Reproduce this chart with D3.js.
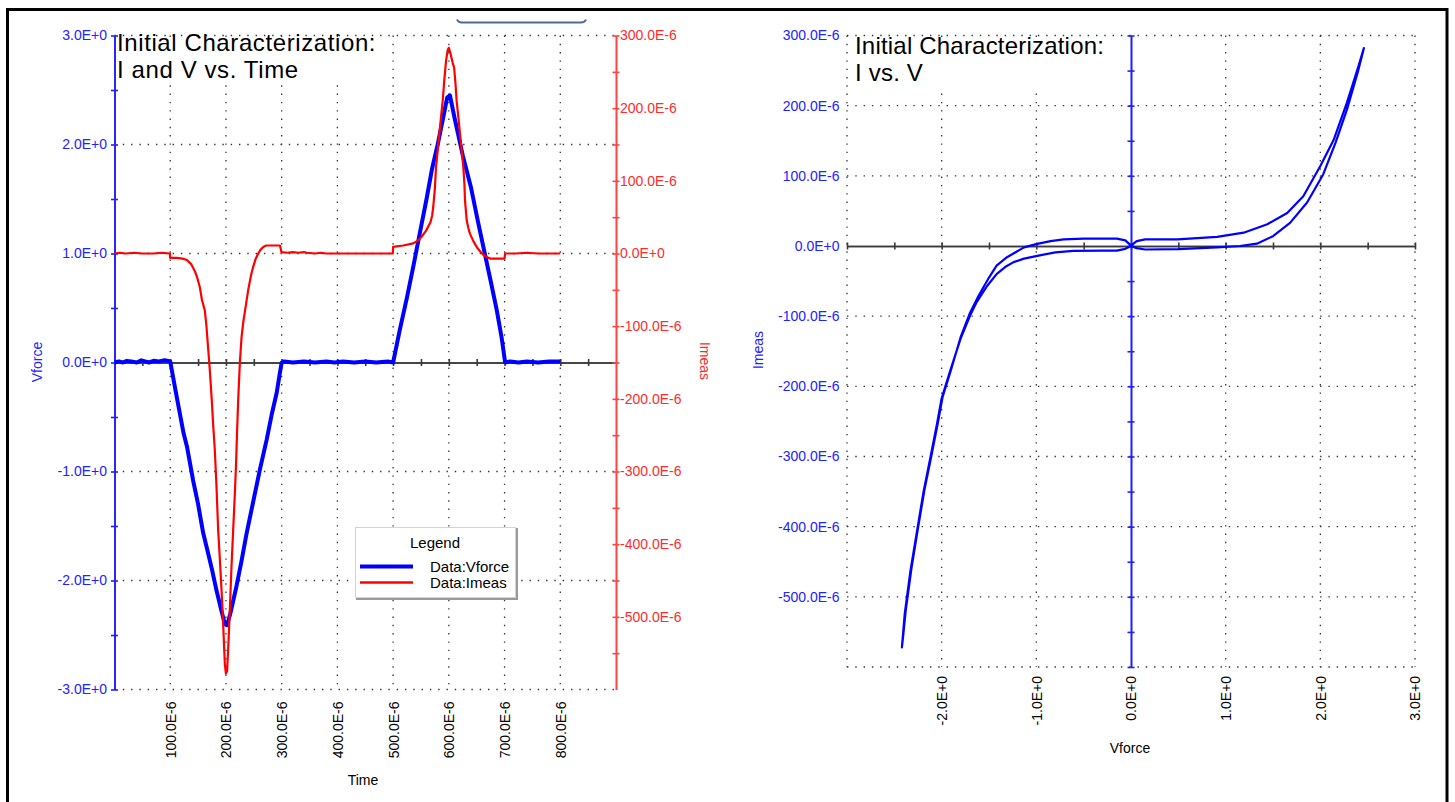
<!DOCTYPE html>
<html><head><meta charset="utf-8">
<script src="https://cdn.jsdelivr.net/npm/d3@7"></script>
<style>
body{margin:0;background:#fff;}
svg{display:block;font-family:"Liberation Sans",Arial,sans-serif;}
</style>
</head><body>
<svg id="c" width="1455" height="802"></svg>
<script>
// ---------- data: left chart (time series) ----------
const vTimeUs = [0,8,15,22,30,40,48,55,62,70,80,90,100,
  110,124,130,141,150,159,168,175,183,192,198,202,208,219,228,237,250,261,273,282,291,296,300,
  305,320,340,360,380,395,410,430,450,470,490,500,
  512,525,537,548,560,570,580,590,597,602,610,625,640,652,662,675,686,695,701,
  710,725,740,760,780,800];
const vforceV = [0,0.01,0,0.015,0.01,0,0.02,0.01,0,0.015,0.01,0.02,0.01,
  -0.27,-0.65,-0.77,-1.08,-1.3,-1.56,-1.75,-1.9,-2.09,-2.28,-2.4,-2.41,-2.3,-2.05,-1.82,-1.57,-1.25,-0.98,-0.71,-0.48,-0.28,-0.12,0.0,
  0.01,0,0.01,0,0.01,0.0,0.01,0,0.01,0,0.01,0,
  0.3,0.6,0.9,1.19,1.5,1.78,2.0,2.25,2.43,2.45,2.25,1.9,1.6,1.3,1.06,0.75,0.48,0.22,0.0,
  0.01,0,0.01,0,0.01,0.01];

const iTimeUs = [0,10,20,35,50,70,85,99.5,
  100,112,122,130,138,144,148,153,157,162,165,168,171,174.5,177,180,183,186,189,192,195,198,200,202,204,207,210,213,216,218,220,222,225,228,231,236,240,245,249,253,258,262,267,272,297,
  299.5,310,320,330,340,345,360,370,380,400,420,440,460,480,499.5,
  500,518,536,545,551,558,563,567,570,572,575,577,580,583,586,589,592,595,598,600,603,607,609.5,612,614,617,620,623,626,628,629,632,635,638,644,650,656,662,668,674,700,
  701,720,740,760,780,800];
const imeasUA = [0,1,0,1,0,0,1,0,
  -6,-6,-7,-9,-15,-24,-32,-46,-64,-78,-100,-130,-160,-201,-235,-270,-320,-380,-420,-462,-510,-565,-578,-575,-545,-490,-430,-380,-330,-293,-245,-201,-150,-115,-95,-70,-50,-30,-18,-8,0,5,9,11,11,
  2,1,2,1,2,1,0,1,0,0,0,0,0,0,0,
  9,11,14,18,23,30,37,43,52,64,90,119,142,165,188,210,240,265,280,283,275,262,256,233,210,188,165,142,119,95,73,46,35,27,17,9,3,-2,-5,-7,-7,
  0,0,1,0,0,0];

const tTickValues = [100,200,300,400,500,600,700,800];
const tTickLabels = ["100.0E-6","200.0E-6","300.0E-6","400.0E-6","500.0E-6","600.0E-6","700.0E-6","800.0E-6"];
const vTickValues = [3,2,1,0,-1,-2,-3];
const vTickLabels = ["3.0E+0","2.0E+0","1.0E+0","0.0E+0","-1.0E+0","-2.0E+0","-3.0E+0"];
const iTickValues = [300,200,100,0,-100,-200,-300,-400,-500];
const iTickLabels = ["300.0E-6","200.0E-6","100.0E-6","0.0E+0","-100.0E-6","-200.0E-6","-300.0E-6","-400.0E-6","-500.0E-6"];

// ---------- data: right chart (I vs V loop, in sweep order) ----------
const ivV = [0,-0.06,-0.15,-0.3,-0.61,-0.8,-0.99,-1.13,-1.24,-1.33,-1.42,-1.52,-1.63,-1.70,-1.80,-1.91,-2.0,-2.05,-2.12,-2.19,-2.26,-2.33,-2.39,-2.42,
  -2.41,-2.38,-2.32,-2.25,-2.18,-2.11,-2.04,-1.99,-1.90,-1.80,-1.70,-1.61,-1.50,-1.42,-1.31,-1.13,-0.99,-0.85,-0.71,-0.5,-0.15,-0.06,0,
  0.06,0.15,0.49,0.91,1.19,1.44,1.65,1.82,2.0,2.14,2.28,2.40,2.46,
  2.40,2.28,2.16,2.03,1.86,1.68,1.5,1.33,1.15,0.91,0.5,0.15,0.06,0];
const ivI = [0,-4,-6.5,-6.5,-7,-9,-14,-18,-23,-30,-40,-57,-80,-99,-132,-178,-217,-254,-302,-349,-406,-463,-524,-572,
  -560,-520,-460,-402,-346,-300,-252,-215,-176,-130,-95,-71,-45,-28,-16,-2,3,7,9.5,10.5,10.5,8,0.5,
  7,9.5,9.5,13,19,31,47,71,114,151,204,255,282,
  250,194,147,102,62,33,14,3.3,0,-2,-4.5,-5,-3,0];
const ivXTickValues = [-2,-1,0,1,2,3];
const ivXTickLabels = ["-2.0E+0","-1.0E+0","0.0E+0","1.0E+0","2.0E+0","3.0E+0"];
const ivYTickValues = iTickValues;
const ivYTickLabels = iTickLabels;

// ---------- setup ----------
const svg = d3.select("#c");
const BLUE = "#0000ff", RED = "#ff0000", BLUE_T = "#2222ff", RED_T = "#ff2b2b";
const DOT = "1.4,6.9";

// frame
svg.append("rect").attr("x",7.5).attr("y",9.5).attr("width",1439.5).attr("height",800)
  .attr("fill","#fff").attr("stroke","#000").attr("stroke-width",3);
// small tab line at top
svg.append("path").attr("d","M457,19.5 Q458,22.5 462,22.5 L581,22.5 Q585,22.5 586,19.5")
  .attr("fill","none").attr("stroke","#4d6e90").attr("stroke-width",2);

// scales
const xT = d3.scaleLinear([0,900],[114.5,616]);
const yV = d3.scaleLinear([-3,3],[689.5,35.5]);
const yI = d3.scaleLinear([-600,300],[689.5,35.5]);
const xV = d3.scaleLinear([-3,3],[847,1415]);
const yIV = d3.scaleLinear([-600,300],[667,35.5]);

function gridH(g, ys, x0, x1){
  g.selectAll(null).data(ys).join("line")
    .attr("x1",x0).attr("x2",x1).attr("y1",d=>d).attr("y2",d=>d)
    .attr("stroke","#333").attr("stroke-width",1.3).attr("stroke-dasharray",DOT);
}
function gridV(g, xs, y0, y1){
  g.selectAll(null).data(xs).join("line")
    .attr("x1",d=>d).attr("x2",d=>d).attr("y1",y0).attr("y2",y1)
    .attr("stroke","#333").attr("stroke-width",1.3).attr("stroke-dasharray",DOT);
}
function crossAxis(parent, tr, a1, a2, color, w){
  const g = parent.append("g").attr("transform",tr);
  g.append("g").call(a1.tickFormat("").tickSizeOuter(0));
  g.append("g").call(a2.tickFormat("").tickSizeOuter(0));
  g.selectAll("path,line").attr("stroke",color).attr("stroke-width",w);
  return g;
}
function labelAxis(parent, tr, axis, color){
  const g = parent.append("g").attr("transform",tr).call(axis.tickSize(0));
  g.select(".domain").remove();
  g.selectAll("text").attr("fill",color).attr("font-size",14).attr("font-family","Liberation Sans, Arial, sans-serif");
  return g;
}
function rotLabels(g, pad){
  g.selectAll("text").attr("transform","rotate(-90)").attr("text-anchor","end")
    .attr("x",-pad).attr("y",0).attr("dy","0.35em");
}

// ================= LEFT CHART =================
const L = svg.append("g");
// gridlines
gridV(L, tTickValues.map(d=>xT(d)), yV(3), yV(-3));
gridH(L, [3,2,1,-1,-2,-3].map(d=>yV(d)), xT(0), xT(900));
// title background + title
L.append("rect").attr("x",116.5).attr("y",37).attr("width",264).attr("height",47).attr("fill","#fff");
L.append("text").attr("x",117).attr("y",51).attr("font-size",24).attr("letter-spacing",0.6).attr("fill","#000").text("Initial Characterization:");
L.append("text").attr("x",117).attr("y",78).attr("font-size",24).attr("letter-spacing",0.6).attr("fill","#000").text("I and V vs. Time");

// black time axis at V = 0
const tMinor = d3.range(50,900,50);
crossAxis(L, `translate(0,${yV(0)})`, d3.axisBottom(xT).tickValues(tMinor).tickSize(3.5),
  d3.axisTop(xT).tickValues(tMinor).tickSize(3.5), "#3a3a3a", 1.6);
// blue left axis
const vMinor = d3.range(-3,3.01,0.5);
crossAxis(L, `translate(${xT(0)},0)`, d3.axisLeft(yV).tickValues(vMinor).tickSize(3.5),
  d3.axisRight(yV).tickValues(vMinor).tickSize(3.5), "#1f1fff", 1.6);
labelAxis(L, `translate(${xT(0)},0)`, d3.axisLeft(yV).tickValues(vTickValues).tickFormat((d,i)=>vTickLabels[i]).tickPadding(7.5), BLUE_T);
// red right axis
const iMinor = d3.range(-550,301,50);
crossAxis(L, `translate(${xT(900)},0)`, d3.axisLeft(yI).tickValues(iMinor).tickSize(3.5),
  d3.axisRight(yI).tickValues(iMinor).tickSize(3.5), "#ff4444", 1.6);
labelAxis(L, `translate(${xT(900)},0)`, d3.axisRight(yI).tickValues(iTickValues).tickFormat((d,i)=>iTickLabels[i]).tickPadding(4), RED_T);
// x labels
const xl = labelAxis(L, `translate(0,${yV(-3)})`, d3.axisBottom(xT).tickValues(tTickValues).tickFormat((d,i)=>tTickLabels[i]), "#000");
rotLabels(xl, 12);
// axis titles
L.append("text").attr("transform",`translate(37,362) rotate(-90)`).attr("text-anchor","middle").attr("dy","0.35em")
  .attr("font-size",14).attr("fill",BLUE_T).text("Vforce");
L.append("text").attr("transform",`translate(705,361) rotate(90)`).attr("text-anchor","middle").attr("dy","0.35em")
  .attr("font-size",14).attr("fill",RED_T).text("Imeas");
L.append("text").attr("x",363).attr("y",785).attr("text-anchor","middle").attr("font-size",14).attr("fill","#000").text("Time");

// data lines
L.append("path").attr("fill","none").attr("stroke",BLUE).attr("stroke-width",4).attr("stroke-linejoin","round")
  .attr("d", d3.line().x((d,i)=>xT(vTimeUs[i])).y(d=>yV(d))(vforceV));
L.append("path").attr("fill","none").attr("stroke",RED).attr("stroke-width",2.2).attr("stroke-linejoin","round")
  .attr("d", d3.line().x((d,i)=>xT(iTimeUs[i])).y(d=>yI(d))(imeasUA));

// legend
const lg = L.append("g");
lg.append("rect").attr("x",355.5).attr("y",527.5).attr("width",160).attr("height",70).attr("fill","#fff").attr("stroke","#d4d4d4").attr("stroke-width",1);
lg.append("path").attr("d","M517,528 V599 H356").attr("fill","none").attr("stroke","#9a9a9a").attr("stroke-width",2);
lg.append("text").attr("x",435).attr("y",543).attr("dy","0.35em").attr("text-anchor","middle").attr("font-size",15).attr("fill","#000").text("Legend");
const legItems = ["Data:Vforce","Data:Imeas"];
const legColors = [BLUE, RED];
const legWidths = [4, 2.5];
const legY = d3.scalePoint().domain(legItems).range([566.5,582.5]);
legItems.forEach((name,i)=>{
  lg.append("line").attr("x1",360).attr("x2",413).attr("y1",legY(name)).attr("y2",legY(name))
    .attr("stroke",legColors[i]).attr("stroke-width",legWidths[i]);
  lg.append("text").attr("x",430).attr("y",legY(name)).attr("dy","0.35em").attr("font-size",15).attr("fill","#000").text(name);
});

// ================= RIGHT CHART =================
const R = svg.append("g");
gridV(R, [-3,-2,-1,1,2,3].map(d=>xV(d)), yIV(300), yIV(-600));
gridH(R, [300,200,100,-100,-200,-300,-400,-500,-600].map(d=>yIV(d)), xV(-3), xV(3));
R.append("rect").attr("x",849).attr("y",37).attr("width",262).attr("height",52).attr("fill","#fff");
R.append("text").attr("x",855).attr("y",54).attr("font-size",24).attr("letter-spacing",0.2).attr("fill","#000").text("Initial Characterization:");
R.append("text").attr("x",855).attr("y",81).attr("font-size",24).attr("letter-spacing",0.2).attr("fill","#000").text("I vs. V");

// black V axis at I = 0
const ivXMinor = d3.range(-3,3.01,0.5);
crossAxis(R, `translate(0,${yIV(0)})`, d3.axisBottom(xV).tickValues(ivXMinor).tickSize(3.5),
  d3.axisTop(xV).tickValues(ivXMinor).tickSize(3.5), "#3a3a3a", 1.6);
// blue I axis at V = 0
const ivYMinor = d3.range(-600,301,50);
crossAxis(R, `translate(${xV(0)},0)`, d3.axisLeft(yIV).tickValues(ivYMinor).tickSize(3.5),
  d3.axisRight(yIV).tickValues(ivYMinor).tickSize(3.5), "#1f1fff", 1.6);
labelAxis(R, `translate(${xV(-3)},0)`, d3.axisLeft(yIV).tickValues(ivYTickValues).tickFormat((d,i)=>ivYTickLabels[i]).tickPadding(7.5), BLUE_T);
const rxl = labelAxis(R, `translate(0,${yIV(-600)})`, d3.axisBottom(xV).tickValues(ivXTickValues).tickFormat((d,i)=>ivXTickLabels[i]), "#000");
rotLabels(rxl, 9);
R.append("text").attr("transform",`translate(758,350) rotate(-90)`).attr("text-anchor","middle").attr("dy","0.35em")
  .attr("font-size",14).attr("fill",BLUE_T).text("Imeas");
R.append("text").attr("x",1130).attr("y",753).attr("text-anchor","middle").attr("font-size",14).attr("fill","#000").text("Vforce");

R.append("path").attr("fill","none").attr("stroke",BLUE).attr("stroke-width",2.2).attr("stroke-linejoin","round")
  .attr("d", d3.line().x((d,i)=>xV(ivV[i])).y(d=>yIV(d)).curve(d3.curveMonotoneX === undefined ? d3.curveLinear : d3.curveLinear)(ivI));
</script>
</body></html>
